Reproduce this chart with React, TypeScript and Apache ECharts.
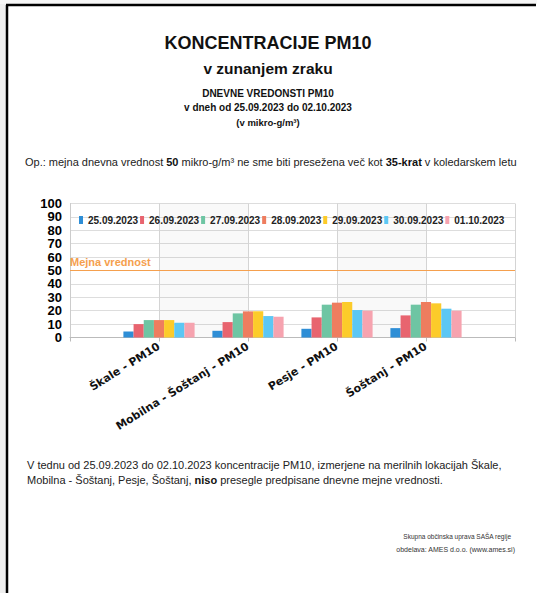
import React, { useEffect, useRef } from "react";
import * as echarts from "echarts";

const categories = ["", "Škale - PM10", "Mobilna - Šoštanj - PM10", "Pesje - PM10", "Šoštanj - PM10", ""];
const seriesNames = ["25.09.2023", "26.09.2023", "27.09.2023", "28.09.2023", "29.09.2023", "30.09.2023", "01.10.2023"];
const seriesColors = ["#2E8ED6", "#E8646F", "#6EC5A3", "#EE7D5F", "#FCCB2A", "#5CC7F4", "#F6A3AF"];
const v25 = [null, 4.5, 5, 6.5, 7, null];
const v26 = [null, 10, 11.5, 15, 16.5, null];
const v27 = [null, 13, 18, 24.5, 24.5, null];
const v28 = [null, 13, 19.5, 26, 26.5, null];
const v29 = [null, 13, 19.5, 26.5, 25.5, null];
const v30 = [null, 11, 16, 20.5, 21.5, null];
const v01 = [null, 11, 15.5, 20, 20, null];
const seriesValues = [v25, v26, v27, v28, v29, v30, v01];
const limitValue = 50;
const yTicks = { min: 0, max: 100, interval: 10 };

const SANS = "'Liberation Sans', Arial, sans-serif";

export default function App() {
  const ref = useRef<HTMLDivElement>(null);
  useEffect(() => {
    if (!ref.current) return;
    const chart = echarts.init(ref.current, null, { renderer: "svg" });
    const series: any[] = seriesNames.map((name, i) => ({
      name,
      type: "bar",
      data: seriesValues[i],
      barGap: "0%",
      barCategoryGap: "20%",
      itemStyle: { color: seriesColors[i] },
      markLine:
        i === 0
          ? {
              silent: true,
              symbol: "none",
              data: [{ yAxis: limitValue }],
              lineStyle: { color: "#F5A04E", width: 1, type: "solid" },
              label: {
                position: "insideStartTop",
                formatter: "Mejna vrednost",
                color: "#F5A04E",
                fontWeight: "bold",
                fontSize: 11,
                fontFamily: SANS,
                distance: [0, 3],
              },
            }
          : undefined,
    }));
    const txt = (text: string, x: number, y: number, size: number, weight: string, align = "center", extra: any = {}) => ({
      type: "text",
      x,
      y,
      style: {
        text,
        fontSize: size,
        fontWeight: weight,
        fontFamily: SANS,
        fill: "#111",
        align,
        verticalAlign: "middle",
        ...extra,
      },
    });
    chart.setOption({
      animation: false,
      backgroundColor: "#ffffff",
      color: seriesColors,
      grid: { left: 70, right: 22, top: 203.5, bottom: 255.5, containLabel: false },
      legend: {
        data: seriesNames,
        left: 74,
        top: 210,
        icon: "rect",
        itemWidth: 4,
        itemHeight: 8,
        itemGap: 2,
        textStyle: { fontSize: 10, fontWeight: "bold", fontFamily: SANS, color: "#222" },
      },
      xAxis: {
        type: "category",
        data: categories,
        boundaryGap: false,
        axisLine: { lineStyle: { color: "#bbbbbb" } },
        axisTick: { show: true, length: 4, interval: 0, lineStyle: { color: "#bbbbbb" } },
        axisLabel: {
          interval: 0,
          rotate: 32,
          margin: 8,
          fontSize: 11,
          fontWeight: "bold",
          fontFamily: "'DejaVu Sans', Verdana, sans-serif",
          color: "#111",
        },
        splitLine: { show: true, interval: 0, lineStyle: { color: "#d4d4d4" } },
        splitArea: { show: true, interval: 0, areaStyle: { color: ["rgba(0,0,0,0)", "rgba(0,0,0,0.025)"] } },
      },
      yAxis: {
        type: "value",
        min: yTicks.min,
        max: yTicks.max,
        interval: yTicks.interval,
        axisLine: { show: true, lineStyle: { color: "#cccccc" } },
        axisTick: { show: false },
        axisLabel: {
          fontSize: 13,
          fontWeight: "bold",
          fontFamily: SANS,
          color: "#000",
          margin: 8,
          showMinLabel: true,
          showMaxLabel: true,
          hideOverlap: false,
        },
        splitLine: { lineStyle: { color: "#dddddd" } },
      },
      series,
      graphic: [
        { type: "rect", shape: { x: 0, y: 0, width: 6, height: 593 }, style: { fill: "#eeeeee" }, z: 100 },
        { type: "rect", shape: { x: 0, y: 0, width: 537, height: 4 }, style: { fill: "#f6f6f6" }, z: 100 },
        { type: "line", shape: { x1: 6, y1: 5, x2: 536, y2: 5 }, style: { stroke: "#000", lineWidth: 2.5 }, z: 101 },
        { type: "line", shape: { x1: 7, y1: 5, x2: 7, y2: 593 }, style: { stroke: "#000", lineWidth: 2.5 }, z: 101 },
        txt("KONCENTRACIJE PM10", 268, 43, 18, "bold"),
        txt("v zunanjem zraku", 268, 68, 15.5, "bold"),
        txt("DNEVNE VREDONSTI PM10", 268, 93, 10, "bold"),
        txt("v dneh od 25.09.2023 do 02.10.2023", 268, 107, 10, "bold"),
        txt("(v mikro-g/m³)", 268, 122, 9.5, "bold"),
        {
          type: "text",
          x: 25,
          y: 162,
          style: {
            text: "{n|Op.: mejna dnevna vrednost }{b|50}{n| mikro-g/m³ ne sme biti presežena več kot }{b|35-krat}{n| v koledarskem letu}",
            verticalAlign: "middle",
            align: "left",
            rich: {
              n: { fontSize: 11, fontFamily: SANS, fill: "#222", color: "#222" },
              b: { fontSize: 11, fontFamily: SANS, fontWeight: "bold", fill: "#111", color: "#111" },
            },
          },
        },
        txt(
          "V tednu od 25.09.2023 do 02.10.2023 koncentracije PM10, izmerjene na merilnih lokacijah Škale,",
          27,
          465,
          11,
          "normal",
          "left",
          { fill: "#222" }
        ),
        {
          type: "text",
          x: 27,
          y: 480,
          style: {
            text: "{n|Mobilna - Šoštanj, Pesje, Šoštanj, }{b|niso}{n| presegle predpisane dnevne mejne vrednosti.}",
            verticalAlign: "middle",
            align: "left",
            rich: {
              n: { fontSize: 11, fontFamily: SANS, fill: "#222", color: "#222" },
              b: { fontSize: 11, fontFamily: SANS, fontWeight: "bold", fill: "#111", color: "#111" },
            },
          },
        },
        txt("Skupna občinska uprava SAŠA regije", 511, 536, 6.5, "normal", "right", { fill: "#333" }),
        txt("obdelava: AMES d.o.o. (www.ames.si)", 515, 549, 7, "normal", "right", { fill: "#333" }),
      ],
    });
    return () => chart.dispose();
  }, []);
  return <div ref={ref} style={{ position: "fixed", left: 0, top: 0, width: 537, height: 593 }} />;
}
